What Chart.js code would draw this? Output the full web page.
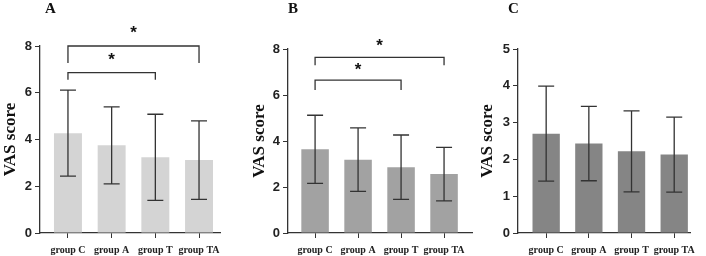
<!DOCTYPE html>
<html>
<head>
<meta charset="utf-8">
<script src="https://cdn.jsdelivr.net/npm/chart.js@4.4.1/dist/chart.umd.min.js"></script>
<style>
  body { margin: 0; background: #fff; width: 706px; height: 256px; overflow: hidden; }
  .panel { position: absolute; top: 0; height: 256px; }
  .tag { position: absolute; top: 0; font: bold 15px "Liberation Serif", serif; color: #111; }
</style>
</head>
<body>
<div class="panel" style="left:0;width:235px"><canvas id="chartA" width="235" height="256"></canvas></div>
<div class="panel" style="left:235px;width:240px"><canvas id="chartB" width="240" height="256"></canvas></div>
<div class="panel" style="left:470px;width:236px"><canvas id="chartC" width="236" height="256"></canvas></div>
<div class="tag" style="left:45px">A</div>
<div class="tag" style="left:288px">B</div>
<div class="tag" style="left:508px">C</div>
<script>
var groups = ["group C", "group A", "group T", "group TA"];

var meanA = [4.27, 3.75, 3.24, 3.12];
var sdA = [1.84, 1.65, 1.84, 1.68];
var meanB = [3.64, 3.19, 2.86, 2.56];
var sdB = [1.48, 1.38, 1.40, 1.16];
var meanC = [2.70, 2.43, 2.22, 2.13];
var sdC = [1.29, 1.01, 1.10, 1.02];

var ticksAB = [0, 2, 4, 6, 8];
var ticksC = [0, 1, 2, 3, 4, 5];

// drawn on top: error bars, then significance brackets
var errorBars = {
	id: "errorBars",
	afterDatasetsDraw: function(chart, args, opts) {
		var ctx = chart.ctx;
		var y = chart.scales.y;
		var meta = chart.getDatasetMeta(0);
		ctx.save();
		ctx.strokeStyle = "#333";
		ctx.lineWidth = 1.3;
		opts.means.forEach(function(m, i) {
			var x = meta.data[i].x;
			var top = y.getPixelForValue(m + opts.sds[i]);
			var bot = y.getPixelForValue(m - opts.sds[i]);
			ctx.beginPath();
			ctx.moveTo(x, top); ctx.lineTo(x, bot);
			ctx.moveTo(x - 8, top); ctx.lineTo(x + 8, top);
			ctx.moveTo(x - 8, bot); ctx.lineTo(x + 8, bot);
			ctx.stroke();
		});
		(opts.brackets || []).forEach(function(b) {
			var x1 = chart.scales.x.getPixelForValue(b.from);
			var x2 = chart.scales.x.getPixelForValue(b.to);
			var yy = y.getPixelForValue(b.level);
			ctx.beginPath();
			ctx.moveTo(x1, yy + b.drop); ctx.lineTo(x1, yy);
			ctx.lineTo(x2, yy); ctx.lineTo(x2, yy + b.drop);
			ctx.stroke();
			ctx.fillStyle = "#111";
			ctx.font = "bold 17px 'Liberation Sans', sans-serif";
			ctx.textAlign = "center";
			ctx.textBaseline = "middle";
			ctx.fillText("*", (x1 + x2) / 2, yy - b.star);
		});
		ctx.restore();
	}
};

function makePanel(id, means, sds, color, tickVals, xmin, xmax, pad, yWidth, brackets) {
	var ctx = document.getElementById(id);
	return new Chart(ctx, {
		type: "bar",
		data: {
			datasets: [{
				data: means.map(function(v, i) { return { x: i, y: v }; }),
				backgroundColor: color,
				borderWidth: 0,
				categoryPercentage: 1,
				barPercentage: 0.64
			}]
		},
		options: {
			responsive: false,
			animation: false,
			layout: { padding: pad },
			plugins: {
				legend: { display: false },
				tooltip: { enabled: false },
				errorBars: { means: means, sds: sds, brackets: brackets }
			},
			scales: {
				x: {
					type: "linear",
					offset: false,
					min: xmin,
					max: xmax,
					afterFit: function(s) { s.height = 256 - 233; },
					afterBuildTicks: function(s) {
						s.ticks = groups.map(function(g, i) { return { value: i }; });
					},
					ticks: {
						padding: 6,
						color: "#222",
						maxRotation: 0,
						autoSkip: false,
						font: { family: "'Liberation Serif', serif", weight: "bold", size: 10 },
						callback: function(v) { return groups[v]; }
					},
					grid: { offset: false, drawOnChartArea: false, drawTicks: true, tickLength: 5, color: "#333" },
					border: { color: "#333", width: 1.3 }
				},
				y: {
					min: 0,
					max: tickVals[tickVals.length - 1],
					afterFit: function(s) { s.width = yWidth; },
					afterBuildTicks: function(s) {
						s.ticks = tickVals.map(function(v) { return { value: v }; });
					},
					ticks: {
						padding: 3,
						color: "#222",
						font: { family: "'Liberation Sans', Arial, sans-serif", weight: "bold", size: 13 }
					},
					grid: { drawOnChartArea: false, drawTicks: true, tickLength: 5, color: "#333" },
					border: { color: "#333", width: 1.3 },
					title: {
						display: true,
						text: "VAS score",
						color: "#111",
						padding: 0,
						font: { family: "'Liberation Serif', serif", weight: "bold", size: 17 }
					}
				}
			}
		},
		plugins: [errorBars]
	});
}

makePanel("chartA", meanA, sdA, "#d4d4d4", ticksAB, -0.64, 3.48,
	{ top: 46, right: 15, left: 0, bottom: 0 }, 40,
	[{ from: 0, to: 3, level: 8, drop: 17, star: 13 }, { from: 0, to: 2, level: 6.86, drop: 7, star: 12 }]);

makePanel("chartB", meanB, sdB, "#a2a2a2", ticksAB, -0.63, 3.65,
	{ top: 49, right: 3, left: 14, bottom: 0 }, 39,
	[{ from: 0, to: 3, level: 7.64, drop: 8, star: 11 }, { from: 0, to: 2, level: 6.65, drop: 10, star: 10 }]);

makePanel("chartC", meanC, sdC, "#858585", ticksC, -0.66, 3.37,
	{ top: 49, right: 16, left: 7, bottom: 0 }, 41, []);
</script>
</body>
</html>
